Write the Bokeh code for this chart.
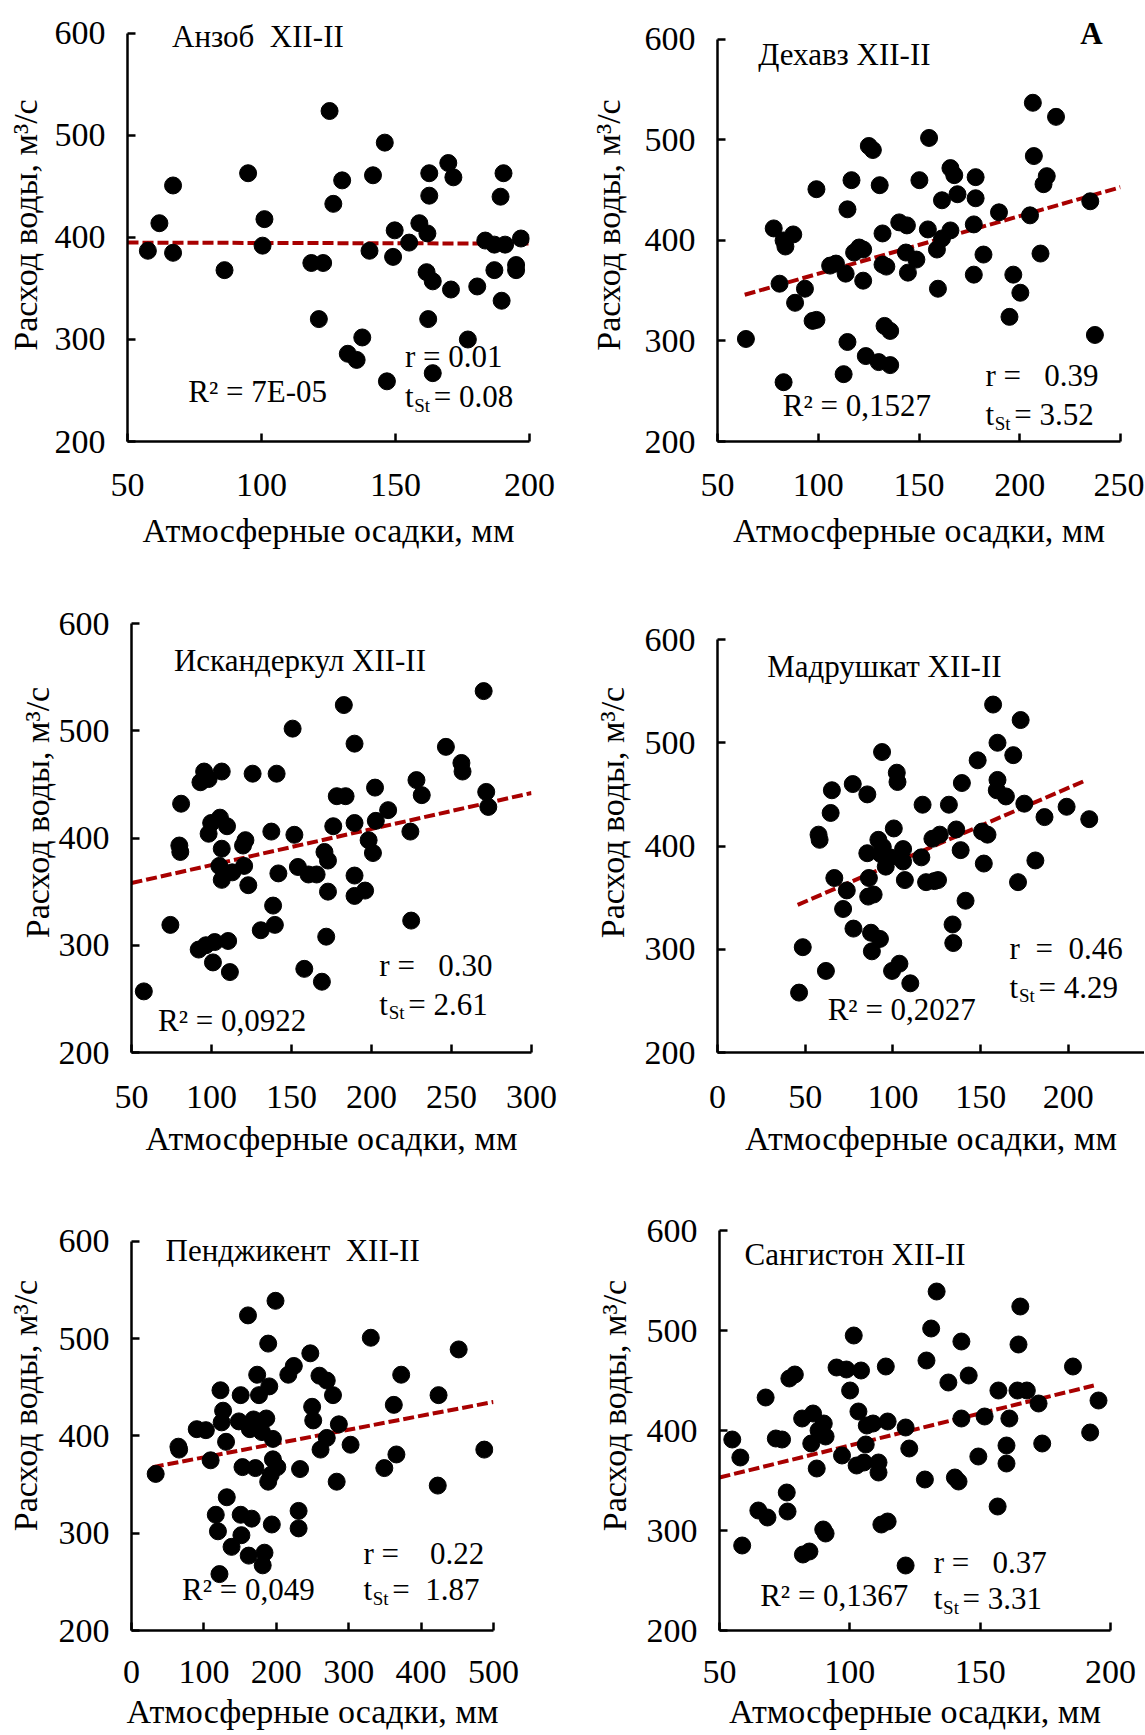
from bokeh.plotting import figure
from bokeh.models import Range1d, FixedTicker, Label
from bokeh.layouts import column, row
from bokeh.embed import file_html
from bokeh.resources import INLINE

FONT = "Liberation Serif"
XLABEL = "Атмосферные осадки, мм"
YLABEL = "Расход воды, м³/с"
Y_TICKS = [200, 300, 400, 500, 600]

# ---------------- Анзоб XII-II ----------------
anzob_x = [57.6, 61.9, 67.0, 67.0, 86.2, 95.0, 101.1, 100.4, 118.6, 123.0, 121.4, 125.4,
           126.8, 130.1, 132.2, 135.5, 137.6, 140.3, 141.6, 146.0, 146.8, 149.1, 149.7,
           155.1, 158.9, 161.9, 162.6, 162.6, 161.6, 163.9, 162.2, 163.9, 169.7, 171.6,
           170.7, 177.0, 180.5, 183.5, 186.9, 189.6, 189.2, 190.3, 186.9, 190.9, 195.0,
           195.0, 196.8]
anzob_y = [387, 414, 451, 385, 368, 463, 418, 392, 375, 375, 320, 524, 433, 456, 286, 280,
           302, 387, 461, 493, 259, 381, 407, 395, 414, 404, 441, 463, 366, 357, 320, 267,
           473, 459, 349, 300, 352, 397, 368, 338, 440, 463, 393, 393, 373, 368, 399]
anzob_trend_x = [50, 200]
anzob_trend_y = [395, 394]
anzob_xticks = [50, 100, 150, 200]

# ---------------- Дехавз XII-II ----------------
dehavz_x = [64.1, 77.9, 82.8, 83.7, 87.6, 80.8, 88.5, 93.4, 97.2, 99.1, 99.1, 82.8, 105.9,
            108.8, 113.6, 112.6, 114.5, 114.5, 116.5, 117.8, 120.3, 122.3, 122.3, 123.6,
            125.1, 127.1, 130.0, 130.5, 131.9, 131.9, 133.8, 132.9, 135.7, 135.7, 140.2,
            144.0, 143.5, 144.5, 148.7, 150.2, 155.0, 154.4, 158.9, 159.4, 161.4, 161.4,
            165.6, 165.6, 167.5, 169.1, 177.2, 177.2, 178.1, 178.1, 182.0, 189.7, 194.9,
            196.8, 200.3, 205.1, 206.5, 207.0, 210.3, 211.8, 213.4, 218.0, 235.0, 237.3]
dehavz_y = [302, 412, 400, 394, 406, 357, 338, 352, 320, 321, 451, 259, 375, 377, 367, 267,
            299, 431, 460, 388, 393, 391, 360, 285, 494, 490, 279, 455, 407, 376, 374, 315,
            310, 276, 418, 415, 388, 368, 381, 460, 502, 411, 391, 352, 440, 402, 410, 472,
            465, 446, 366, 416, 463, 442, 386, 428, 324, 366, 348, 425, 537, 484, 387, 456,
            464, 523, 439, 306]
dehavz_trend_x = [63.5, 250]
dehavz_trend_y = [346, 453]
dehavz_xticks = [50, 100, 150, 200, 250]

# ---------------- Искандеркул XII-II ----------------
iskander_x = [57.7, 74.3, 81.0, 79.9, 80.5, 92.0, 93.1, 95.4, 98.2, 96.5, 100.9, 102.0, 98.2,
              99.8, 105.3, 106.4, 106.4, 104.9, 106.4, 109.7, 110.4, 111.5, 113.0, 119.7,
              120.4, 123.0, 121.2, 125.7, 130.8, 137.4, 138.5, 139.6, 140.7, 141.8, 150.7,
              151.8, 154.0, 158.0, 160.6, 165.7, 169.0, 170.6, 172.8, 172.8, 171.7, 176.1,
              178.3, 183.8, 182.7, 189.4, 189.4, 189.4, 189.4, 196.0, 198.2, 200.9, 202.2,
              202.7, 210.4, 224.3, 224.8, 228.1, 231.4, 246.5, 256.2, 256.9, 270.1, 271.7,
              273.0]
iskander_y = [257, 319, 432, 393, 387, 296, 452, 462, 455, 300, 284, 303, 404, 414, 419, 462,
              390, 374, 361, 411, 304, 275, 368, 393, 374, 356, 398, 460, 314, 406, 337, 319,
              460, 367, 502, 403, 373, 278, 366, 366, 266, 387, 379, 350, 308, 411, 439, 439,
              524, 488, 414, 365, 346, 351, 398, 386, 447, 416, 426, 406, 323, 454, 440, 485,
              470, 462, 537, 443, 429]
iskander_trend_x = [50, 300]
iskander_trend_y = [358, 442]
iskander_xticks = [50, 100, 150, 200, 250, 300]

# ---------------- Мадрушкат XII-II ----------------
madr_x = [46.5, 48.6, 61.8, 57.6, 58.2, 64.5, 65.2, 66.6, 71.6, 73.7, 77.1, 77.5, 85.4, 85.4,
          86.3, 85.9, 89.0, 87.5, 88.0, 92.6, 91.7, 93.2, 94.2, 93.8, 95.9, 98.4, 100.5, 99.5,
          103.7, 102.2, 102.6, 105.8, 105.8, 106.8, 109.9, 116.2, 116.9, 118.9, 122.5, 123.6,
          125.7, 126.7, 131.9, 134.0, 134.4, 136.1, 138.6, 139.3, 141.4, 148.3, 150.8, 151.8,
          153.9, 157.1, 159.6, 159.6, 159.2, 164.4, 168.6, 172.8, 171.3, 174.9, 181.2, 186.4,
          199.0, 211.9]
madr_y = [258, 302, 279, 411, 406, 432, 454, 369, 339, 357, 460, 320, 450, 393, 369, 351, 353,
          316, 298, 310, 406, 392, 399, 491, 380, 389, 417, 279, 286, 471, 462, 397, 385, 367,
          267, 389, 440, 365, 407, 366, 367, 411, 440, 324, 306, 416, 396, 461, 347, 483, 414,
          383, 411, 537, 500, 464, 454, 448, 488, 522, 365, 441, 386, 428, 438, 426]
madr_trend_x = [45.7, 210.5]
madr_trend_y = [343, 464]
madr_xticks = [0, 50, 100, 150, 200, 250]

# ---------------- Пенджикент XII-II ----------------
pendj_x = [33.4, 64.8, 65.8, 90.1, 102.7, 109.3, 116.4, 119.4, 121.5, 122.9, 126.5, 124.5,
           130.6, 131.6, 138.2, 148.3, 150.8, 150.8, 151.8, 153.3, 160.9, 166.0, 161.9, 163.5,
           168.5, 171.1, 173.6, 176.1, 178.6, 180.2, 183.7, 181.2, 186.2, 188.8, 188.8, 190.3,
           192.3, 195.3, 195.3, 198.9, 193.8, 201.4, 216.6, 224.2, 230.8, 230.8, 232.8, 247.0,
           249.5, 251.0, 259.6, 269.7, 261.1, 269.7, 278.3, 283.4, 286.4, 302.6, 330.5, 349.2,
           362.3, 365.9, 372.5, 423.0, 424.1, 451.9, 487.3]
pendj_y = [361, 389, 386, 407, 406, 375, 319, 302, 258, 447, 426, 414, 394, 337, 286, 415, 442,
           319, 298, 368, 524, 315, 277, 407, 417, 367, 463, 442, 415, 404, 280, 267, 418, 495,
           353, 451, 360, 397, 376, 539, 309, 368, 463, 472, 323, 305, 366, 485, 430, 416, 462,
           457, 386, 398, 442, 353, 412, 391, 501, 367, 432, 381, 463, 349, 442, 489, 386]
pendj_trend_x = [29.4, 500]
pendj_trend_y = [368, 435]
pendj_xticks = [0, 100, 200, 300, 400, 500]

# ---------------- Сангистон XII-II ----------------
sang_x = [54.9, 58.0, 58.7, 64.9, 68.4, 67.7, 71.6, 74.0, 75.8, 76.1, 76.8, 78.9, 82.0, 84.5,
          81.7, 85.9, 85.2, 87.3, 88.0, 90.0, 90.7, 89.8, 90.7, 94.9, 97.0, 98.7, 100.1, 101.5,
          103.3, 102.6, 104.3, 105.4, 106.1, 106.5, 108.9, 111.0, 111.0, 112.1, 114.5, 113.8,
          114.5, 121.4, 122.8, 121.4, 128.8, 129.4, 131.2, 133.3, 137.8, 140.3, 141.7, 142.8,
          142.8, 145.6, 149.3, 151.7, 157.0, 156.7, 160.1, 160.1, 161.2, 164.3, 164.7, 165.4,
          167.9, 172.4, 173.8, 185.6, 192.2, 195.4]
sang_y = [391, 373, 285, 320, 313, 433, 392, 391, 338, 319, 452, 456, 276, 279, 412, 417, 387,
          362, 400, 407, 394, 301, 297, 463, 375, 461, 440, 495, 419, 365, 460, 368, 386, 405,
          407, 368, 358, 306, 309, 464, 409, 403, 382, 265, 351, 470, 502, 539, 448, 353, 349,
          489, 412, 455, 374, 414, 440, 324, 385, 367, 412, 440, 486, 524, 440, 427, 387, 464,
          398, 430]
sang_trend_x = [50, 193.6]
sang_trend_y = [353, 445]
sang_xticks = [50, 100, 150, 200]


def make_panel(xs, ys, tx, ty, xr, y_end, xticks, width, height, bl, br, bt, bb,
               x_std, x_lab_std, y_lab_std):
    p = figure(width=width, height=height, x_range=Range1d(*xr), y_range=Range1d(200, y_end),
               output_backend="svg", toolbar_location=None,
               min_border_left=bl, min_border_right=br, min_border_top=bt, min_border_bottom=bb)
    p.outline_line_color = None
    p.xgrid.visible = False
    p.ygrid.visible = False
    p.background_fill_color = "white"
    p.border_fill_color = "white"
    p.xaxis.ticker = FixedTicker(ticks=xticks)
    p.yaxis.ticker = FixedTicker(ticks=Y_TICKS)
    p.yaxis.bounds = (200, 600)
    for ax in (p.xaxis, p.yaxis):
        ax.axis_line_width = 2.5
        ax.axis_line_color = "black"
        ax.major_tick_line_width = 2.5
        ax.major_tick_line_color = "black"
        ax.major_tick_in = 8
        ax.major_tick_out = 0
        ax.minor_tick_line_color = None
        ax.major_label_text_font = FONT
        ax.major_label_text_font_size = "34px"
        ax.major_label_text_color = "black"
        ax.axis_label_text_font = FONT
        ax.axis_label_text_font_size = "34px"
        ax.axis_label_text_font_style = "normal"
        ax.axis_label_text_color = "black"
    p.yaxis.major_label_standoff = 22
    p.yaxis.axis_label_standoff = y_lab_std
    p.xaxis.major_label_standoff = x_std
    p.xaxis.axis_label_standoff = x_lab_std
    p.xaxis.axis_label = XLABEL
    p.yaxis.axis_label = YLABEL
    p.line(tx, ty, line_color="#A80000", line_width=4, line_dash="11 4")
    p.scatter(xs, ys, size=17, fill_color="black", line_color="black")
    return p


def lab(p, x, y, text, size=31, bold=False, xo=0, yo=0):
    p.add_layout(Label(x=x, y=y, text=text, text_font=FONT, text_font_size=f"{size}px",
                       text_font_style="bold" if bold else "normal", text_color="black",
                       text_baseline="middle", text_align="left", x_offset=xo, y_offset=yo))


def stats(p, x, y_r, y_t, r_text, t_text, r2_x, r2_y, r2_text, size=31):
    lab(p, r2_x, r2_y, r2_text, size)
    lab(p, x, y_r, r_text, size)
    lab(p, x, y_t, "t", size)
    lab(p, x, y_t, "St", int(size * 0.62), xo=size * 0.3, yo=-size * 0.28)
    lab(p, x, y_t, t_text, size, xo=size * 0.3 + size * 0.62 * 0.86 + 3)


NB = "\u00a0"
W1, W2 = 572, 572
H1, H2, H3 = 560, 600, 574

# row 1
p1 = make_panel(anzob_x, anzob_y, anzob_trend_x, anzob_trend_y, (50, 200), 624.5, anzob_xticks,
                W1, H1, 127, 43, 8, 119, 32, 13, 8)
lab(p1, 66.6, 597, "Анзоб" + NB + NB + "XII-II")
stats(p1, 153.5, 283, 244, "r = 0.01", "= 0.08", 72.7, 249, "R² = 7E-05")

p2 = make_panel(dehavz_x, dehavz_y, dehavz_trend_x, dehavz_trend_y, (50, 250), 630.8,
                dehavz_xticks, W2, H1, 145, 24, 8, 119, 32, 13, 15)
lab(p2, 70.2, 585, "Дехавз XII-II")
lab(p2, 230, 606, "A", 31, bold=True)
stats(p2, 183, 266, 226.8, "r =" + NB * 3 + "0.39", "= 3.52", 82.4, 235.9, "R² = 0,1527")

# row 2
p3 = make_panel(iskander_x, iskander_y, iskander_trend_x, iskander_trend_y, (50, 300), 647.6,
                iskander_xticks, W1, H2, 131, 41, 12, 108, 33, 9, 0)
lab(p3, 76.5, 565.4, "Искандеркул XII-II")
stats(p3, 204.9, 281.3, 245, "r =" + NB * 3 + "0.30", "= 2.61", 66.6, 229.6, "R² = 0,0922")

p4 = make_panel(madr_x, madr_y, madr_trend_x, madr_trend_y, (0, 243.4), 664.9, madr_xticks,
                W2, H2, 145, 0, 12, 108, 33, 9, 11)
lab(p4, 28.3, 573.6, "Мадрушкат XII-II")
stats(p4, 166.5, 301, 263.4, "r" + NB + NB + "=" + NB + NB + "0.46", "= 4.29", 62.8, 241.8,
      "R² = 0,2027")

# row 3
p5 = make_panel(pendj_x, pendj_y, pendj_trend_x, pendj_trend_y, (0, 500), 662.7, pendj_xticks,
                W1, H3, 131, 79, 20, 104, 30, 7, 12)
lab(p5, 47, 590.4, "Пенджикент" + NB + NB + "XII-II")
stats(p5, 320.3, 279.1, 242, "r =" + NB * 4 + "0.22", "=" + NB + NB + "1.87", 69.8, 242,
      "R² = 0,049")

p6 = make_panel(sang_x, sang_y, sang_trend_x, sang_trend_y, (50, 200), 650, sang_xticks,
                W2, H3, 147, 34, 20, 104, 30, 7, 11)
lab(p6, 59.6, 576.5, "Сангистон XII-II")
stats(p6, 132.2, 267.9, 231.8, "r =" + NB * 3 + "0.37", "= 3.31", 65.6, 235.4, "R² = 0,1367")

layout = column(row(p1, p2), row(p3, p4), row(p5, p6))
open("out.html", "w").write(file_html(layout, INLINE))
